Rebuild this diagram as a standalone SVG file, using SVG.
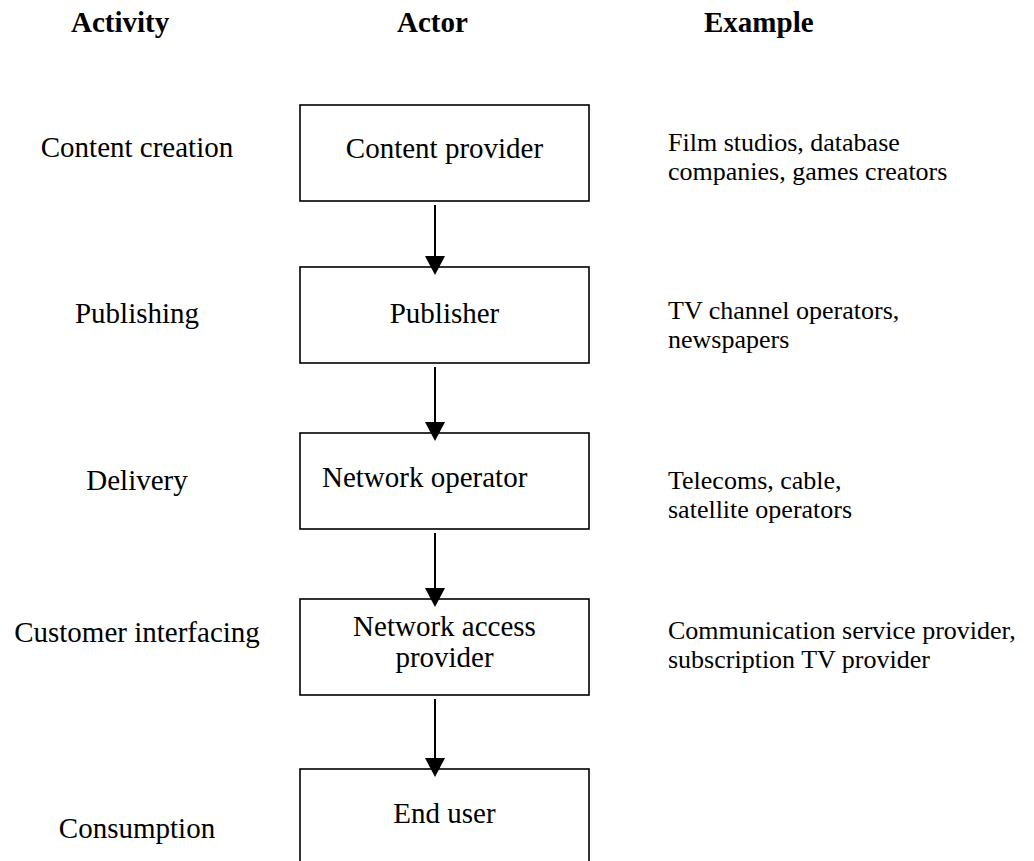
<svg xmlns="http://www.w3.org/2000/svg" width="1034" height="861" viewBox="0 0 1034 861">
<style>
.t{font-family:"Liberation Serif","Times New Roman",serif;font-size:29px;fill:#000}
.h{font-family:"Liberation Serif","Times New Roman",serif;font-size:29px;font-weight:bold;fill:#000}
.e{font-family:"Liberation Serif","Times New Roman",serif;font-size:26px;fill:#000}
.box{fill:#fff;stroke:#000;stroke-width:1.6}
.ln{stroke:#000;stroke-width:2;fill:none}
.c{text-anchor:middle}
</style>
<rect width="1034" height="861" fill="#fff"/>
<g id="headers">
<text class="h" x="71" y="32">Activity</text>
<text class="h" x="397" y="32">Actor</text>
<text class="h" x="704" y="32">Example</text>
</g>
<g id="activities">
<text class="t c" x="137" y="157">Content creation</text>
<text class="t c" x="137" y="323">Publishing</text>
<text class="t c" x="137" y="490">Delivery</text>
<text class="t c" x="137" y="642">Customer interfacing</text>
<text class="t c" x="137" y="838">Consumption</text>
</g>
<g id="node-content-provider">
<rect class="box" x="300" y="105" width="289" height="96"/>
<text class="t c" x="444.5" y="158">Content provider</text>
</g>
<g id="node-publisher">
<rect class="box" x="300" y="267" width="289" height="96"/>
<text class="t c" x="444.5" y="323">Publisher</text>
</g>
<g id="node-network-operator">
<rect class="box" x="300" y="433" width="289" height="96"/>
<text class="t" x="322" y="487">Network operator</text>
</g>
<g id="node-network-access-provider">
<rect class="box" x="300" y="599" width="289" height="96"/>
<text class="t c" x="444.5" y="636">Network access</text>
<text class="t c" x="444.5" y="667">provider</text>
</g>
<g id="node-end-user">
<rect class="box" x="300" y="769" width="289" height="110"/>
<text class="t c" x="444.5" y="823">End user</text>
</g>
<g id="connectors">
<line class="ln" x1="435" y1="205" x2="435" y2="258"/>
<polygon points="425,256 445,256 435,275"/>
<line class="ln" x1="435" y1="367" x2="435" y2="424"/>
<polygon points="425,422 445,422 435,441"/>
<line class="ln" x1="435" y1="533" x2="435" y2="590"/>
<polygon points="425,588 445,588 435,607"/>
<line class="ln" x1="435" y1="699" x2="435" y2="760"/>
<polygon points="425,758 445,758 435,777"/>
</g>
<g id="examples">
<text class="e" x="668" y="151">Film studios, database</text>
<text class="e" x="668" y="180">companies, games creators</text>
<text class="e" x="668" y="319">TV channel operators,</text>
<text class="e" x="668" y="348">newspapers</text>
<text class="e" x="668" y="489">Telecoms, cable,</text>
<text class="e" x="668" y="518">satellite operators</text>
<text class="e" x="668" y="639">Communication service provider,</text>
<text class="e" x="668" y="668">subscription TV provider</text>
</g>
</svg>
